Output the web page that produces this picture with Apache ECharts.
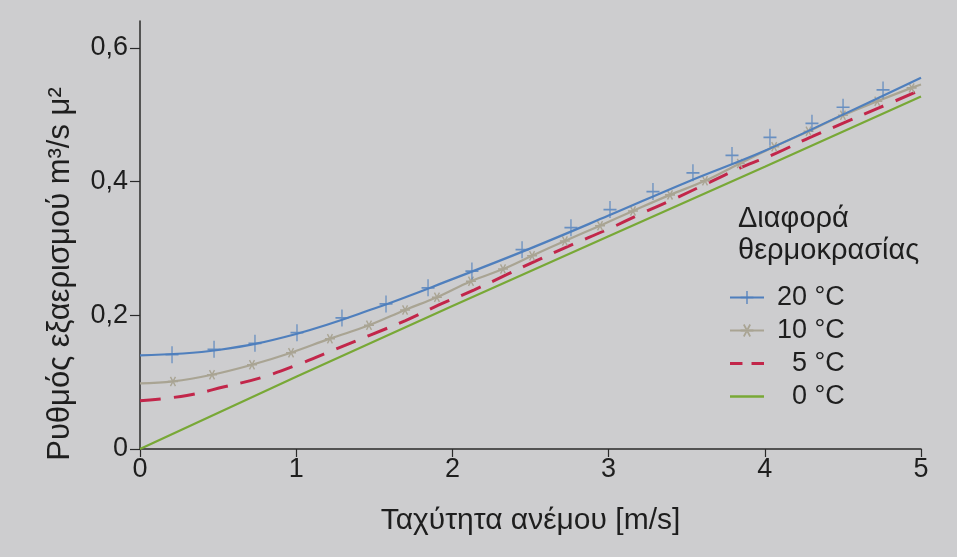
<!DOCTYPE html>
<html>
<head>
<meta charset="utf-8">
<script src="https://cdn.jsdelivr.net/npm/echarts@6/dist/echarts.min.js"></script>
<style>
html,body{margin:0;padding:0;background:#cdcdcf;}
#c{width:957px;height:557px;}
</style>
</head>
<body>
<div id="c"></div>
<script>
// ---- data ----
const seriesNames = ['20 °C', '10 °C', '5 °C', '0 °C'];
const xTicks = [0, 1, 2, 3, 4, 5];
const yTicks = [0, 0.2, 0.4, 0.6];

// 20 °C fitted line
const line20X = [0, 0.5, 1.0, 1.5, 2.0, 2.5, 3.0, 3.5, 4.0, 4.5, 5.0];
const line20Y = [0.140, 0.148, 0.172, 0.210, 0.254, 0.300, 0.349, 0.399, 0.446, 0.500, 0.555];
// 20 °C markers (+)
const mark20X = [0.205, 0.474, 0.736, 1.005, 1.293, 1.575, 1.844, 2.125, 2.446, 2.759, 3.009, 3.284, 3.540, 3.790, 4.033, 4.302, 4.501, 4.757, 5.006];
const mark20Y = [0.141, 0.149, 0.158, 0.174, 0.196, 0.217, 0.241, 0.266, 0.298, 0.331, 0.358, 0.385, 0.413, 0.439, 0.466, 0.487, 0.511, 0.537, 0.565];

// 10 °C
const line10X = [0, 0.211, 0.461, 0.717, 0.967, 1.216, 1.466, 1.697, 1.901, 2.119, 2.324, 2.51, 2.72, 2.945, 3.156, 3.393, 3.617, 3.84, 4.06, 4.28, 4.5, 4.72, 4.94, 5.0];
const line10Y = [0.098, 0.101, 0.111, 0.126, 0.144, 0.165, 0.185, 0.208, 0.227, 0.251, 0.269, 0.289, 0.311, 0.334, 0.356, 0.380, 0.401, 0.427, 0.452, 0.475, 0.499, 0.520, 0.540, 0.545];

// 5 °C
const line5X = [0, 0.3, 0.54, 0.78, 1.02, 1.25, 1.47, 1.70, 1.91, 2.14, 2.35, 2.56, 2.77, 3.0, 3.2, 3.42, 3.63, 3.85, 4.07, 4.29, 4.52, 4.73, 5.0];
const line5Y = [0.072, 0.080, 0.093, 0.107, 0.127, 0.149, 0.170, 0.192, 0.215, 0.238, 0.261, 0.284, 0.306, 0.329, 0.351, 0.374, 0.397, 0.421, 0.442, 0.466, 0.489, 0.510, 0.537];

// 0 °C
const line0X = [0, 1, 2, 3, 4, 5];
const line0Y = [0, 0.108, 0.214, 0.318, 0.422, 0.527];

// ---- styling ----
const FONT = '"Liberation Sans", Arial, sans-serif';
const TXT = '#1e1e1e';
const C20 = '#4f7fbd';
const C10 = '#a9a493';
const C5 = '#c2264a';
const C0 = '#78a836';

const plusPath = 'path://M-0.1,-1 L0.1,-1 L0.1,-0.1 L1,-0.1 L1,0.1 L0.1,0.1 L0.1,1 L-0.1,1 L-0.1,0.1 L-1,0.1 L-1,-0.1 L-0.1,-0.1 Z';
const starPath = 'path://M-1,-0.14 L1,-0.14 L1,0.14 L-1,0.14 Z M0.38,0.93 L0.62,0.79 L-0.38,-0.93 L-0.62,-0.79 Z M0.62,-0.79 L0.38,-0.93 L-0.62,0.79 L-0.38,0.93 Z';
const dashIcon = 'path://M0,0 L11,0 L11,2.6 L0,2.6 Z M19,0 L30,0 L30,2.6 L19,2.6 Z';
const solidIcon = 'path://M0,0 L30,0 L30,2 L0,2 Z';

const zip = (xs, ys) => xs.map((x, i) => [x, ys[i]]);
// 10 °C: no marker on the first and last points
const data10 = line10X.map((x, i) => {
  const item = {value: [x, line10Y[i]]};
  if (i === 0 || i === line10X.length - 1) item.symbol = 'none';
  return item;
});

const chart = echarts.init(document.getElementById('c'), null, {renderer: 'canvas'});
chart.setOption({
  backgroundColor: '#cdcdcf',
  animation: false,
  textStyle: {fontFamily: FONT, color: TXT},
  grid: {left: 140, right: 36, top: 21, bottom: 108},
  xAxis: {
    type: 'value', min: 0, max: 5, interval: 1,
    axisLine: {show: true, lineStyle: {color: '#2a2a2a', width: 1.5}},
    axisTick: {show: true, length: 8, lineStyle: {color: '#2a2a2a', width: 1.2}},
    splitLine: {show: false},
    axisLabel: {margin: 7, fontSize: 27, color: TXT, fontFamily: FONT,
      customValues: xTicks, formatter: v => String(v)},
    name: 'Ταχύτητα ανέμου [m/s]',
    nameLocation: 'middle', nameGap: 57,
    nameTextStyle: {fontSize: 30, color: TXT, fontFamily: FONT}
  },
  yAxis: {
    type: 'value', min: 0, max: 0.64, interval: 0.2,
    axisLine: {show: true, lineStyle: {color: '#2a2a2a', width: 1.5}},
    axisTick: {show: true, length: 10, customValues: yTicks, lineStyle: {color: '#2a2a2a', width: 1.2}},
    splitLine: {show: false},
    axisLabel: {margin: 12, fontSize: 27, color: TXT, fontFamily: FONT,
      customValues: yTicks,
      formatter: v => (v === 0 ? '0' : v.toFixed(1).replace('.', ','))}
  },
  legend: {
    orient: 'vertical', left: 724, top: 279,
    itemWidth: 34, itemHeight: 16, itemGap: 6,
    data: [
      {name: seriesNames[0]},
      {name: seriesNames[1]},
      {name: seriesNames[2], icon: dashIcon},
      {name: seriesNames[3], icon: solidIcon}
    ],
    textStyle: {fontSize: 27, color: TXT, fontFamily: FONT, padding: [0, 0, 0, 8]},
    formatter: n => (n.length < 5 ? '\u2007' + n : n)
  },
  graphic: [
    {type: 'text', left: 738, top: 204,
     style: {text: 'Διαφορά', font: '29px ' + FONT, fill: TXT}},
    {type: 'text', left: 738, top: 236,
     style: {text: 'θερμοκρασίας', font: '29px ' + FONT, fill: TXT}},
    {type: 'text', x: 60, y: 274, rotation: Math.PI / 2,
     style: {text: 'Ρυθμός εξαερισμού m³/s μ²', font: '31px ' + FONT, fill: TXT,
       align: 'center', verticalAlign: 'middle'}}
  ],
  series: [
    {name: seriesNames[0], type: 'line', data: zip(line20X, line20Y), smooth: 0.4,
     showSymbol: false, symbol: plusPath, symbolSize: 15,
     lineStyle: {color: C20, width: 2.2}, itemStyle: {color: C20}, z: 5},
    {name: seriesNames[0], type: 'scatter', data: zip(mark20X, mark20Y),
     symbol: plusPath, symbolSize: [13, 17], itemStyle: {color: C20}, z: 6},
    {name: seriesNames[1], type: 'line', data: data10, smooth: 0.4,
     symbol: starPath, symbolSize: 10, showAllSymbol: true,
     lineStyle: {color: C10, width: 2.2}, itemStyle: {color: C10}, z: 4},
    {name: seriesNames[2], type: 'line', data: zip(line5X, line5Y), smooth: 0.4,
     symbol: 'none',
     lineStyle: {color: C5, width: 3, type: [21, 13]}, itemStyle: {color: C5}, z: 3},
    {name: seriesNames[3], type: 'line', data: zip(line0X, line0Y),
     symbol: 'none',
     lineStyle: {color: C0, width: 2.2}, itemStyle: {color: C0}, z: 2}
  ]
});
</script>
</body>
</html>
